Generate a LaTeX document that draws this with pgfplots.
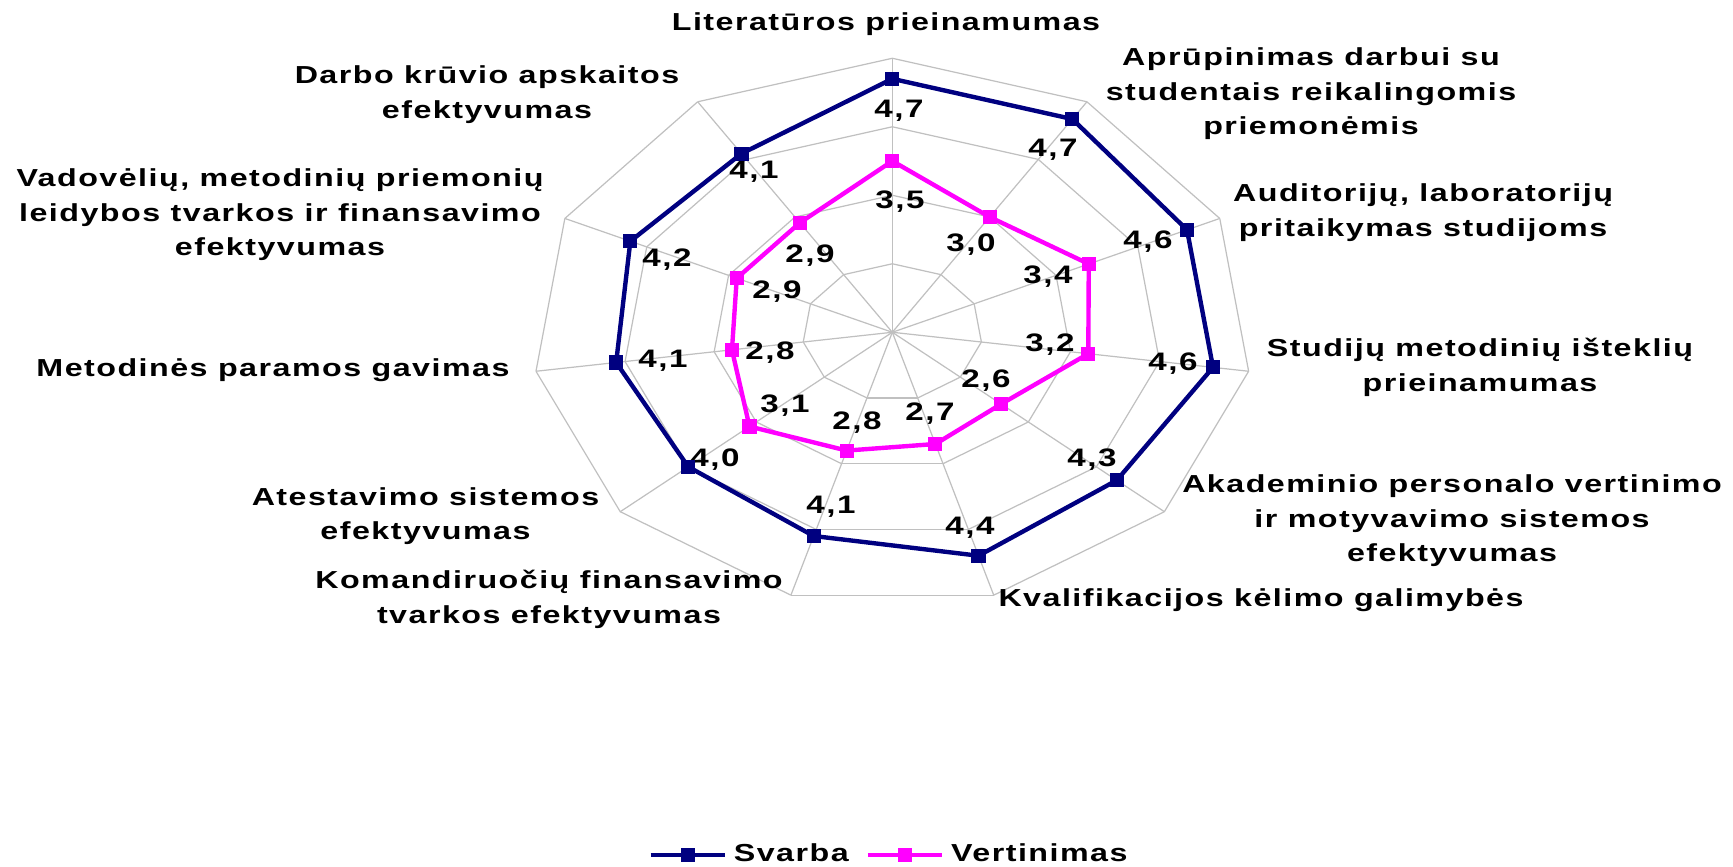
\documentclass[border=0pt]{standalone}
\usepackage{fontspec}
\setmainfont{Liberation Sans}[FakeStretch=1.31, LetterSpace=6]
\usepackage{pgfplots}
\usepackage{pgfplotstable}
\pgfplotsset{compat=1.18}
\definecolor{svarba}{RGB}{0,0,128}
\definecolor{vert}{RGB}{255,0,255}
\definecolor{gridc}{RGB}{192,192,192}
\tikzset{
  lab/.style={font=\bfseries\fontsize{7}{9.8}\selectfont, align=center, anchor=center, inner sep=0pt},
  val/.style={font=\bfseries\fontsize{7.2}{8}\selectfont, anchor=base, inner sep=0pt},
}
\pgfplotstableread{
i s v
0 4.7 3.5
1 4.7 3.0
2 4.6 3.4
3 4.6 3.2
4 4.3 2.6
5 4.4 2.7
6 4.1 2.8
7 4.0 3.1
8 4.1 2.8
9 4.2 2.9
10 4.1 2.9
11 4.7 3.5
}\datatable
\begin{document}
\begin{tikzpicture}
\begin{axis}[
  width=17.33cm, height=8.67cm, scale only axis,
  xmin=0, xmax=1733, ymin=0, ymax=867,
  hide axis, clip=false,
  legend columns=2,
  legend style={at={(0.5144,0.0138)}, anchor=center, draw=none, fill=none,
    font=\bfseries\fontsize{7}{8}\selectfont,
    inner xsep=0pt, inner ysep=0pt,
    /tikz/every even column/.append style={column sep=1.0mm}},
  legend image code/.code={\draw[mark repeat=2,mark phase=2,#1] plot coordinates {(0cm,0cm) (0.37cm,0cm) (0.74cm,0cm)};},
]
% grid: spokes and rings
\pgfplotsinvokeforeach{0,...,10}{
  \draw[gridc, line width=0.35pt] (axis cs:892.3,534.7) -- (axis cs:{892.3+360*sin(#1*32.72727)},{534.7+274*cos(#1*32.72727)});
  \draw[gridc, line width=0.35pt] (axis cs:{892.3+90*sin(#1*32.72727)},{534.7+68.5*cos(#1*32.72727)}) -- (axis cs:{892.3+90*sin((#1+1)*32.72727)},{534.7+68.5*cos((#1+1)*32.72727)});
  \draw[gridc, line width=0.35pt] (axis cs:{892.3+180*sin(#1*32.72727)},{534.7+137*cos(#1*32.72727)}) -- (axis cs:{892.3+180*sin((#1+1)*32.72727)},{534.7+137*cos((#1+1)*32.72727)});
  \draw[gridc, line width=0.35pt] (axis cs:{892.3+270*sin(#1*32.72727)},{534.7+205.5*cos(#1*32.72727)}) -- (axis cs:{892.3+270*sin((#1+1)*32.72727)},{534.7+205.5*cos((#1+1)*32.72727)});
  \draw[gridc, line width=0.35pt] (axis cs:{892.3+360*sin(#1*32.72727)},{534.7+274*cos(#1*32.72727)}) -- (axis cs:{892.3+360*sin((#1+1)*32.72727)},{534.7+274*cos((#1+1)*32.72727)});
}
\addplot[svarba, line width=1.25pt, mark=square*, mark size=1.85pt, mark options={solid, line width=0.3pt}]
  table[x expr={892.3+90*(\thisrow{s}-1)*sin(\thisrow{i}*32.72727)}, y expr={534.7+68.5*(\thisrow{s}-1)*cos(\thisrow{i}*32.72727)}] {\datatable};
\addlegendentry{Svarba}
\addplot[vert, line width=1.25pt, mark=square*, mark size=1.85pt, mark options={solid, line width=0.3pt}]
  table[x expr={892.3+90*(\thisrow{v}-1)*sin(\thisrow{i}*32.72727)}, y expr={534.7+68.5*(\thisrow{v}-1)*cos(\thisrow{i}*32.72727)}] {\datatable};
\addlegendentry{Vertinimas}
% category labels
\node[lab] at (axis cs:886,843) {Literatūros prieinamumas};
\node[lab] at (axis cs:1311,773) {Aprūpinimas darbui su\\studentais reikalingomis\\priemonėmis};
\node[lab] at (axis cs:1423,654.5) {Auditorijų, laboratorijų\\pritaikymas studijoms};
\node[lab] at (axis cs:1480,499.5) {Studijų metodinių išteklių\\prieinamumas};
\node[lab] at (axis cs:1452,346) {Akademinio personalo vertinimo\\ir motyvavimo sistemos\\efektyvumas};
\node[lab] at (axis cs:1261,267) {Kvalifikacijos kėlimo galimybės};
\node[lab] at (axis cs:549,267.5) {Komandiruočių finansavimo\\tvarkos efektyvumas};
\node[lab] at (axis cs:425.5,351) {Atestavimo sistemos\\efektyvumas};
\node[lab] at (axis cs:273,497) {Metodinės paramos gavimas};
\node[lab] at (axis cs:280,652) {Vadovėlių, metodinių priemonių\\leidybos tvarkos ir finansavimo\\efektyvumas};
\node[lab] at (axis cs:487,772.5) {Darbo krūvio apskaitos\\efektyvumas};
% value labels Svarba
\node[val] at (axis cs:899,749) {4,7};
\node[val] at (axis cs:1053,710) {4,7};
\node[val] at (axis cs:1148,618) {4,6};
\node[val] at (axis cs:1173,496.5) {4,6};
\node[val] at (axis cs:1092,400.5) {4,3};
\node[val] at (axis cs:970,332) {4,4};
\node[val] at (axis cs:831,353) {4,1};
\node[val] at (axis cs:715,400) {4,0};
\node[val] at (axis cs:663,499) {4,1};
\node[val] at (axis cs:667,600) {4,2};
\node[val] at (axis cs:754,688) {4,1};
% value labels Vertinimas
\node[val] at (axis cs:900,658) {3,5};
\node[val] at (axis cs:971,615) {3,0};
\node[val] at (axis cs:1048,583) {3,4};
\node[val] at (axis cs:1050,515) {3,2};
\node[val] at (axis cs:986,479) {2,6};
\node[val] at (axis cs:930,446) {2,7};
\node[val] at (axis cs:857,437.5) {2,8};
\node[val] at (axis cs:785,454) {3,1};
\node[val] at (axis cs:770,507.5) {2,8};
\node[val] at (axis cs:777,568) {2,9};
\node[val] at (axis cs:810,604) {2,9};
\end{axis}
\pgfresetboundingbox
\useasboundingbox (0,0) rectangle (17.33cm,8.67cm);
\end{tikzpicture}
\end{document}
